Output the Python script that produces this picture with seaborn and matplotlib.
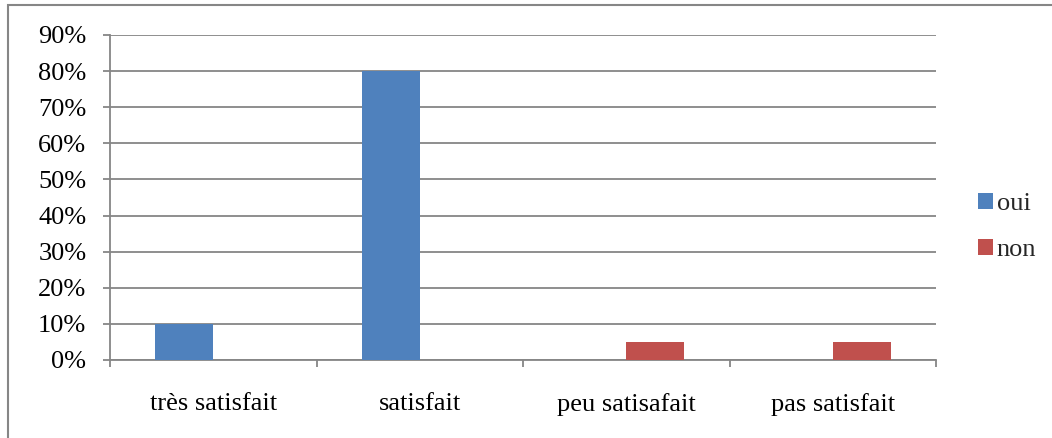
import matplotlib
matplotlib.use("Agg")
import matplotlib.pyplot as plt
import matplotlib.patches as mpatches
from matplotlib.ticker import PercentFormatter, FixedLocator
import seaborn as sns
import pandas as pd

categories = ["très satisfait", "satisfait", "peu satisafait", "pas satisfait"]
oui = [0.10, 0.80, 0.0, 0.0]
non = [0.0, 0.0, 0.05, 0.05]
series = ["oui", "non"]
colors = ["#4F81BD", "#C0504D"]

df = pd.DataFrame({
    "categorie": categories * 2,
    "reponse": [series[0]] * 4 + [series[1]] * 4,
    "valeur": oui + non,
})

sns.set_theme(style="white")
plt.rcParams["font.family"] = ["Liberation Serif", "DejaVu Serif"]

W, H, DPI = 1052, 438, 100
FS = 19
fig = plt.figure(figsize=(W / DPI, H / DPI), dpi=DPI)
ax = fig.add_axes([110 / W, 1 - 360 / H, (936 - 110) / W, (360 - 35) / H])

sns.barplot(data=df, x="categorie", y="valeur", hue="reponse", order=categories,
            hue_order=series, palette=colors, width=0.56, saturation=1,
            linewidth=0, legend=False, ax=ax, zorder=3)

grid_c = "#868686"
ax.set_xlim(-0.5, 3.5)
ax.set_ylim(0, 0.9)
ax.set_yticks([i / 10 for i in range(10)])
ax.yaxis.set_major_formatter(PercentFormatter(1.0, decimals=0))
ax.yaxis.grid(True, color=grid_c, linewidth=1.3, zorder=0)
ax.set_axisbelow(True)
ax.set_xlabel("")
ax.set_ylabel("")

for side in ["top", "right"]:
    ax.spines[side].set_visible(False)
for side in ["left", "bottom"]:
    ax.spines[side].set_color(grid_c)
    ax.spines[side].set_linewidth(1.3)

ax.xaxis.set_minor_locator(FixedLocator([-0.5, 0.5, 1.5, 2.5, 3.5]))
ax.tick_params(axis="x", which="major", length=0, pad=24, labelsize=FS, colors="black")
ax.tick_params(axis="x", which="minor", length=5, width=1.3, color=grid_c, direction="out", bottom=True)
ax.tick_params(axis="y", length=5, width=1.3, color=grid_c, direction="out", left=True,
               pad=12, labelsize=FS, labelcolor="black")

handles = [mpatches.Patch(facecolor=c, edgecolor="none", label=s) for s, c in zip(series, colors)]
fig.legend(handles=handles, loc="center left", bbox_to_anchor=(965 / W, 1 - 227 / H),
           frameon=False, fontsize=FS, handlelength=0.55, handleheight=0.55,
           handletextpad=0.15, labelspacing=0.9, borderpad=0)

# outer frame around the chart area
fig.patches.append(mpatches.Rectangle((8 / W, -0.01), 1.1, 1 - 5 / H + 0.01,
                                      transform=fig.transFigure, fill=False,
                                      edgecolor="#868686", linewidth=1.5))

fig.savefig("out.png", dpi=DPI)
